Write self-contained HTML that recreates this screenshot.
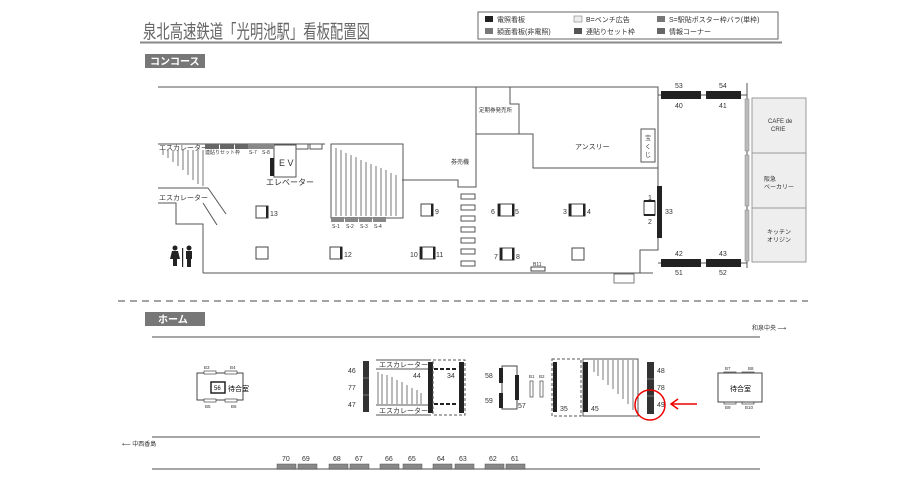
<!DOCTYPE html>
<html><head><meta charset="utf-8"><style>
body{margin:0;background:#fff;}
svg{display:block;font-family:"Liberation Sans","Noto Sans CJK JP",sans-serif;}
</style></head><body>
<svg width="919" height="491" viewBox="0 0 919 491" xmlns="http://www.w3.org/2000/svg">
<!-- title -->
<text x="143" y="38" font-size="19" fill="#666" textLength="227" lengthAdjust="spacingAndGlyphs">泉北高速鉄道「光明池駅」看板配置図</text>
<rect x="478" y="12" width="300" height="27" fill="#fff" stroke="#666"/>
<g font-size="7" fill="#333">
<rect x="485" y="16" width="8" height="6" fill="#222"/><text x="497" y="22">電照看板</text>
<rect x="485" y="28" width="8" height="6" fill="#777"/><text x="497" y="34">額面看板(非電照)</text>
<rect x="574" y="16" width="8" height="6" fill="#eee" stroke="#666" stroke-width="0.5"/><text x="586" y="22">B=ベンチ広告</text>
<rect x="574" y="28" width="8" height="6" fill="#555"/><text x="586" y="34">連貼りセット枠</text>
<rect x="657" y="16" width="8" height="6" fill="#777"/><text x="669" y="22">S=駅貼ポスター枠バラ(単枠)</text>
<rect x="657" y="28" width="8" height="6" fill="#666"/><text x="669" y="34">情報コーナー</text>
</g>
<line x1="140" y1="42.5" x2="782" y2="42.5" stroke="#888" stroke-width="2"/>
<rect x="145" y="54" width="60" height="14" fill="#777"/>
<text x="150" y="65" font-size="10" font-weight="bold" fill="#fff">コンコース</text>

<!-- concourse walls -->
<g fill="none" stroke="#555" stroke-width="1">
<polyline points="158,87 658,87 658,168"/>
<polyline points="476,87 476,187 458,187 458,180 402,180"/>
<polyline points="510,87 510,104 519,104 519,134 476,134"/>
<polyline points="519,134 533,134 533,168 658,168"/>
<polyline points="658,168 658,250 640,250 640,273"/>
<polyline points="203,273 653,273"/>
<polyline points="203,273 203,224 176,224 176,203 158,203"/>
<line x1="158" y1="144" x2="325" y2="144"/>
<line x1="158" y1="188" x2="208" y2="188"/>
<line x1="208" y1="188" x2="226" y2="214"/>
<line x1="203" y1="203" x2="217" y2="225"/>
<rect x="331" y="144" width="72" height="74"/>
<rect x="274" y="145" width="22" height="32"/>
<rect x="296" y="144" width="12" height="5"/><rect x="310" y="144" width="12" height="5"/>
<rect x="641" y="129" width="14" height="33"/>
</g>
<!-- escalator hatches -->
<g stroke="#555" stroke-width="0.8">
<line x1="163" y1="150" x2="163" y2="155"/><line x1="168" y1="150" x2="168" y2="158"/>
<line x1="173" y1="150" x2="173" y2="162"/><line x1="178" y1="150" x2="178" y2="166"/>
<line x1="183" y1="150" x2="183" y2="170"/><line x1="188" y1="150" x2="188" y2="175"/>
<line x1="193" y1="150" x2="193" y2="180"/><line x1="198" y1="150" x2="198" y2="184"/>
<line x1="203" y1="150" x2="203" y2="186"/>
<line x1="336" y1="148" x2="336" y2="216"/><line x1="341" y1="150" x2="341" y2="216"/>
<line x1="346" y1="153" x2="346" y2="216"/><line x1="351" y1="155" x2="351" y2="216"/>
<line x1="356" y1="157" x2="356" y2="216"/><line x1="361" y1="160" x2="361" y2="216"/>
<line x1="366" y1="162" x2="366" y2="216"/><line x1="371" y1="164" x2="371" y2="216"/>
<line x1="376" y1="166" x2="376" y2="216"/><line x1="381" y1="168" x2="381" y2="216"/>
<line x1="386" y1="170" x2="386" y2="216"/><line x1="391" y1="173" x2="391" y2="216"/>
<line x1="396" y1="175" x2="396" y2="216"/>
</g>
<g font-size="7" fill="#333">
<text x="159" y="150">エスカレーター</text>
<text x="159" y="200">エスカレーター</text>
<text x="266" y="185" font-size="8">エレベーター</text>
<text x="279" y="166" font-size="9">E V</text>
<text x="451" y="164" font-size="6">券売機</text>
<text x="479" y="112" font-size="5.5">定期券発売所</text>
<text x="575" y="149" font-size="7">アンスリー</text>
<text x="645" y="140" font-size="6">宝</text><text x="645" y="149" font-size="6">く</text><text x="645" y="157" font-size="6">じ</text>
<text x="205" y="154" font-size="5">連貼りセット枠</text><text x="249" y="154" font-size="5">S-7</text><text x="262" y="154" font-size="5">S-8</text>
</g>
<g fill="#666"><rect x="205" y="144" width="14" height="5"/><rect x="220" y="144" width="14" height="5"/><rect x="235" y="144" width="13" height="5"/></g>
<g fill="#888"><rect x="248" y="144" width="13" height="5"/><rect x="261" y="144" width="13" height="5"/></g>
<rect x="270" y="158" width="4" height="18" fill="#222"/>
<!-- S-1..4 -->
<g fill="#888"><rect x="331" y="217" width="13" height="5"/><rect x="345" y="217" width="13" height="5"/><rect x="359" y="217" width="13" height="5"/><rect x="373" y="217" width="13" height="5"/></g>
<g font-size="5" fill="#333"><text x="332" y="228">S-1</text><text x="346" y="228">S-2</text><text x="360" y="228">S-3</text><text x="374" y="228">S-4</text></g>
<!-- ticket machines -->
<g fill="#fff" stroke="#555">
<rect x="461" y="194" width="14" height="5"/><rect x="461" y="205" width="14" height="5"/><rect x="461" y="216" width="14" height="5"/><rect x="461" y="227" width="14" height="5"/><rect x="461" y="238" width="14" height="5"/><rect x="461" y="249" width="14" height="5"/><rect x="461" y="261" width="14" height="5"/>
</g>
<!-- pillars -->
<g fill="#fff" stroke="#444">
<rect x="256" y="206" width="12" height="12"/><rect x="256" y="247" width="12" height="12"/>
<rect x="330" y="247" width="12" height="12"/><rect x="421" y="204" width="12" height="12"/>
<rect x="420" y="247" width="15" height="12"/><rect x="498" y="204" width="16" height="12"/>
<rect x="569" y="204" width="16" height="12"/><rect x="500" y="248" width="14" height="12"/>
<rect x="572" y="248" width="12" height="12"/><rect x="644" y="201" width="11" height="14"/>
</g>
<g fill="#222">
<rect x="266" y="206" width="2.5" height="12"/><rect x="340" y="247" width="2.5" height="12"/><rect x="431" y="204" width="2.5" height="12"/>
<rect x="420" y="247" width="2.5" height="12"/><rect x="433" y="247" width="2.5" height="12"/>
<rect x="498" y="204" width="2.5" height="12"/><rect x="512" y="204" width="2.5" height="12"/>
<rect x="569" y="204" width="2.5" height="12"/><rect x="583" y="204" width="2.5" height="12"/>
<rect x="500" y="248" width="2.5" height="12"/><rect x="512" y="248" width="2.5" height="12"/>
<rect x="644" y="200" width="11" height="2"/><rect x="644" y="214" width="11" height="2"/>
<rect x="657" y="186" width="5" height="52"/>
</g>
<rect x="531" y="267" width="14" height="4" fill="#fff" stroke="#444"/>
<rect x="614" y="274" width="20" height="9" fill="#fff" stroke="#444" stroke-width="0.7"/>
<g font-size="7" fill="#333">
<text x="270" y="216">13</text><text x="344" y="257">12</text><text x="435" y="214">9</text>
<text x="410" y="257">10</text><text x="436" y="257">11</text>
<text x="491" y="214">6</text><text x="515" y="214">5</text><text x="563" y="214">3</text><text x="587" y="214">4</text>
<text x="494" y="259">7</text><text x="516" y="259">8</text><text x="533" y="266" font-size="5">B11</text>
<text x="648" y="200">1</text><text x="648" y="224">2</text><text x="665" y="214">33</text>
</g>
<!-- toilet -->
<g fill="#222">
<circle cx="175" cy="248" r="2.5"/><path d="M172,251 h6 l2,8 h-3 v7 h-4 v-7 h-3z"/>
<rect x="182" y="248" width="1.2" height="19"/>
<circle cx="189" cy="248" r="2.5"/><rect x="186" y="251" width="6" height="8"/><rect x="187" y="258" width="4" height="9"/>
</g>
<!-- right side boards -->
<line x1="658" y1="95" x2="747" y2="95" stroke="#555"/>
<line x1="658" y1="263" x2="747" y2="263" stroke="#555"/>
<line x1="747" y1="83" x2="747" y2="268" stroke="#555"/>
<g fill="#222"><rect x="661" y="91" width="40" height="8"/><rect x="706" y="91" width="35" height="8"/><rect x="661" y="259" width="40" height="8"/><rect x="706" y="259" width="35" height="8"/></g>
<g font-size="7" fill="#333">
<text x="675" y="88">53</text><text x="719" y="88">54</text><text x="675" y="108">40</text><text x="719" y="108">41</text>
<text x="675" y="256">42</text><text x="719" y="256">43</text><text x="675" y="275">51</text><text x="719" y="275">52</text>
</g>
<g fill="#eee" stroke="#999"><rect x="752" y="98" width="54" height="55"/><rect x="752" y="153" width="54" height="55"/><rect x="752" y="208" width="54" height="54"/></g>
<g fill="#bbb" stroke="#888" stroke-width="0.5"><rect x="745" y="99" width="4" height="52"/><rect x="745" y="155" width="4" height="51"/><rect x="745" y="210" width="4" height="51"/></g>
<g font-size="6" fill="#333">
<text x="768" y="123">CAFE de</text><text x="771" y="131">CRIE</text>
<text x="764" y="181">阪急</text><text x="764" y="189">ベーカリー</text>
<text x="767" y="234">キッチン</text><text x="767" y="242">オリジン</text>
</g>

<!-- dashed divider -->
<line x1="118" y1="301" x2="808" y2="301" stroke="#444" stroke-dasharray="7,5"/>
<rect x="145" y="312" width="60" height="14" fill="#777"/>
<text x="158" y="323" font-size="10" font-weight="bold" fill="#fff">ホーム</text>
<text x="752" y="330" font-size="6" fill="#333">和泉中央 ⟶</text>
<line x1="152" y1="337" x2="760" y2="337" stroke="#888" stroke-width="1.5"/>
<line x1="152" y1="437" x2="760" y2="437" stroke="#888" stroke-width="1.5"/>
<line x1="152" y1="469" x2="760" y2="469" stroke="#888" stroke-width="1.5"/>
<text x="122" y="446" font-size="6" fill="#333">⟵ 中西香島</text>

<!-- bottom boards -->
<g fill="#888" stroke="#555" stroke-width="0.5">
<rect x="277" y="464" width="19" height="5"/><rect x="298" y="464" width="19" height="5"/>
<rect x="329" y="464" width="19" height="5"/><rect x="350" y="464" width="19" height="5"/>
<rect x="380" y="464" width="19" height="5"/><rect x="403" y="464" width="19" height="5"/>
<rect x="433" y="464" width="19" height="5"/><rect x="455" y="464" width="19" height="5"/>
<rect x="485" y="464" width="19" height="5"/><rect x="506" y="464" width="19" height="5"/>
</g>
<g font-size="7" fill="#333">
<text x="282" y="461">70</text><text x="302" y="461">69</text><text x="333" y="461">68</text><text x="355" y="461">67</text>
<text x="385" y="461">66</text><text x="408" y="461">65</text><text x="437" y="461">64</text><text x="459" y="461">63</text>
<text x="489" y="461">62</text><text x="511" y="461">61</text>
</g>

<!-- waiting rooms -->
<rect x="197" y="373" width="46" height="27" fill="#fff" stroke="#444"/>
<rect x="211" y="382" width="14" height="11" fill="#fff" stroke="#222" stroke-width="1.5"/>
<text x="214" y="390" font-size="6">56</text><text x="228" y="391" font-size="7">待合室</text>
<g fill="#fff" stroke="#444" stroke-width="0.7"><rect x="204" y="371" width="12" height="3"/><rect x="225" y="371" width="12" height="3"/><rect x="204" y="399" width="12" height="3"/><rect x="225" y="399" width="12" height="3"/>
<rect x="724" y="372" width="12" height="3"/><rect x="742" y="372" width="12" height="3"/><rect x="724" y="401" width="12" height="3"/><rect x="742" y="401" width="12" height="3"/></g>
<g font-size="4.5" fill="#333"><text x="204" y="369">B3</text><text x="230" y="369">B4</text><text x="205" y="408">B5</text><text x="231" y="408">B6</text>
<text x="725" y="370">B7</text><text x="748" y="370">B8</text><text x="725" y="409">B9</text><text x="745" y="409">B10</text></g>
<rect x="718" y="373" width="44" height="29" fill="#fff" stroke="#444"/>
<text x="730" y="391" font-size="7">待合室</text>

<!-- left escalator -->
<rect x="363" y="361" width="6" height="51" fill="#333"/>
<line x1="363" y1="378" x2="369" y2="378" stroke="#777"/><line x1="363" y1="395" x2="369" y2="395" stroke="#777"/>
<g font-size="7" fill="#333"><text x="348" y="373">46</text><text x="348" y="390">77</text><text x="348" y="407">47</text></g>
<g fill="none" stroke="#555"><line x1="376" y1="360" x2="431" y2="360"/><line x1="376" y1="415" x2="431" y2="415"/>
<line x1="376" y1="369" x2="428" y2="369"/><line x1="376" y1="405" x2="428" y2="405"/></g>
<text x="379" y="367" font-size="7" fill="#333">エスカレーター</text>
<text x="379" y="413" font-size="7" fill="#333">エスカレーター</text>
<g stroke="#555" stroke-width="0.8">
<line x1="378" y1="372" x2="378" y2="404"/><line x1="382" y1="374" x2="382" y2="404"/><line x1="387" y1="375" x2="387" y2="404"/>
<line x1="392" y1="377" x2="392" y2="404"/><line x1="397" y1="380" x2="397" y2="404"/><line x1="402" y1="382" x2="402" y2="404"/>
<line x1="407" y1="385" x2="407" y2="404"/><line x1="412" y1="388" x2="412" y2="404"/><line x1="417" y1="390" x2="417" y2="404"/><line x1="421" y1="393" x2="421" y2="404"/>
</g>
<text x="413" y="378" font-size="7" fill="#333">44</text>
<rect x="428" y="362" width="5" height="51" fill="#222"/>
<rect x="433" y="360" width="32" height="55" fill="none" stroke="#555" stroke-dasharray="3,2"/>
<line x1="434" y1="369" x2="458" y2="369" stroke="#222" stroke-width="2" stroke-dasharray="4,2"/>
<line x1="434" y1="404" x2="458" y2="404" stroke="#222" stroke-width="2" stroke-dasharray="4,2"/>
<text x="447" y="378" font-size="7" fill="#333">34</text>
<rect x="459" y="362" width="5" height="51" fill="#222"/>

<!-- 57/58/59 -->
<rect x="502" y="366" width="15" height="43" fill="#fff" stroke="#444"/>
<rect x="499" y="368" width="4" height="15" fill="#222"/><rect x="499" y="393" width="4" height="15" fill="#222"/><rect x="515" y="375" width="4" height="25" fill="#222"/>
<g font-size="7" fill="#333"><text x="485" y="378">58</text><text x="485" y="403">59</text><text x="518" y="408">57</text></g>
<rect x="530" y="381" width="3" height="16" fill="#fff" stroke="#444" stroke-width="0.7"/><rect x="540" y="381" width="3" height="16" fill="#fff" stroke="#444" stroke-width="0.7"/>
<g font-size="4.5" fill="#333"><text x="529" y="378">B1</text><text x="539" y="378">B2</text></g>

<!-- right escalator -->
<rect x="552" y="359" width="29" height="57" fill="none" stroke="#555" stroke-dasharray="3,2"/>
<rect x="553" y="362" width="4" height="50" fill="#222"/>
<text x="560" y="411" font-size="7" fill="#333">35</text>
<rect x="583" y="359" width="55" height="57" fill="none" stroke="#555"/>
<rect x="583" y="362" width="5" height="50" fill="#222"/>
<g stroke="#555" stroke-width="0.8">
<line x1="594" y1="360" x2="594" y2="372"/><line x1="598" y1="360" x2="598" y2="376"/><line x1="603" y1="360" x2="603" y2="380"/>
<line x1="608" y1="360" x2="608" y2="385"/><line x1="613" y1="360" x2="613" y2="389"/><line x1="618" y1="360" x2="618" y2="394"/>
<line x1="623" y1="360" x2="623" y2="399"/><line x1="628" y1="360" x2="628" y2="404"/><line x1="633" y1="360" x2="633" y2="410"/>
</g>
<text x="591" y="411" font-size="7" fill="#333">45</text>
<rect x="647" y="362" width="7" height="52" fill="#333"/>
<line x1="647" y1="379" x2="654" y2="379" stroke="#777"/><line x1="647" y1="396" x2="654" y2="396" stroke="#777"/>
<g font-size="7" fill="#333"><text x="657" y="373">48</text><text x="657" y="390">78</text><text x="657" y="407">49</text></g>
<circle cx="650" cy="405" r="15" fill="none" stroke="#e00" stroke-width="1.5"/>
<line x1="672" y1="404" x2="697" y2="404" stroke="#e00" stroke-width="1.5"/>
<polyline points="678,399 671,404 678,409" fill="none" stroke="#e00" stroke-width="1.5"/>
</svg>
</body></html>
